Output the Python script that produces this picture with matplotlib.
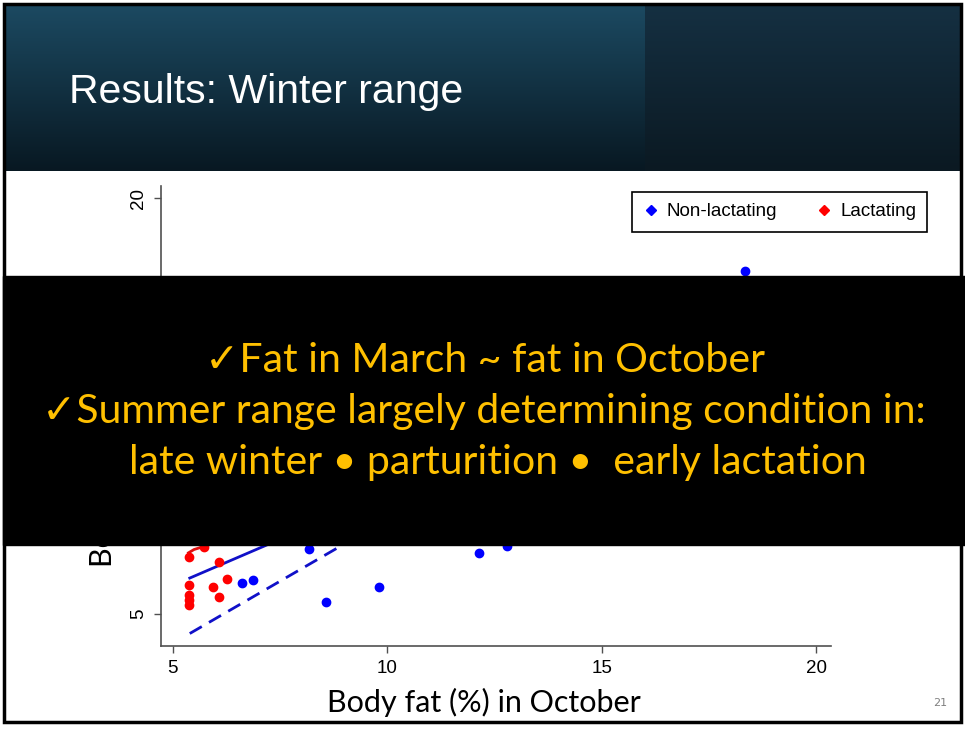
import numpy as np
import matplotlib.pyplot as plt
from matplotlib.lines import Line2D
from matplotlib.patches import Rectangle

# body fat (%): October (x) vs March (y)
nonlact_oct = [6.61, 6.87, 8.17, 8.57, 9.80, 12.13, 12.80, 18.33]
nonlact_mar = [6.14, 6.24, 7.35, 5.43, 5.97, 7.21, 7.45, 17.38]
lact_oct = [5.38, 5.73, 6.08, 5.38, 5.38, 5.38, 5.38, 5.94, 6.08, 6.26]
lact_mar = [7.07, 7.41, 6.87, 6.05, 5.69, 5.51, 5.32, 5.99, 5.62, 6.26]

# fitted lines (only the ends below the overlay are visible)
fit_solid_x = [5.40, 18.33]
fit_solid_y = [6.30, 14.90]
fit_dash_x = [5.40, 18.33]
fit_dash_y = [4.30, 15.90]
lact_fit_x = [5.37, 5.50, 5.71, 6.30]
lact_fit_y = [7.21, 7.33, 7.43, 8.20]

x_ticks = [5, 10, 15, 20]
y_ticks = [5, 10, 15, 20]

box_lines = ["\u2713Fat in March ~ fat in October",
             "\u2713Summer range largely determining condition in:",
             "late winter \u2022 parturition \u2022  early lactation"]

W, H = 965, 729
fig = plt.figure(figsize=(W / 100, H / 100), dpi=100)
fig.patch.set_facecolor("white")

# ---- scatter chart
ax = fig.add_axes([161 / W, (H - 646) / H, 670 / W, 460 / H])
ax.plot(fit_dash_x, fit_dash_y, color="#1010c8", lw=2, dashes=(5, 3))
ax.plot(fit_solid_x, fit_solid_y, color="#1010c8", lw=2)
ax.plot(lact_fit_x, lact_fit_y, color="#e01010", lw=2)
ax.scatter(nonlact_oct, nonlact_mar, s=36, color="#0000ff", zorder=3)
ax.scatter(lact_oct, lact_mar, s=36, color="#ff0000", zorder=3)

ax.set_xlim(4.73, 20.34)
ax.set_ylim(3.85, 20.44)
ax.set_xticks(x_ticks)
ax.set_yticks(y_ticks)
for s in ["top", "right"]:
    ax.spines[s].set_visible(False)
for s in ["left", "bottom"]:
    ax.spines[s].set_color("#505050")
    ax.spines[s].set_linewidth(1.2)
ax.tick_params(length=5, width=1, color="#505050", labelsize=13.5,
               labelfontfamily="Liberation Sans")
ax.tick_params(axis="x", pad=5)
ax.tick_params(axis="y", pad=5, labelrotation=90)
for lab in ax.get_yticklabels():
    lab.set_va("center")

ax.set_xlabel("Body fat (%) in October", fontsize=22, family=["Lato", "DejaVu Sans"])
ax.xaxis.set_label_coords((483.5 - 161) / 670, -(702 - 646) / 460)
ax.xaxis.label.set_va("center")
ax.set_ylabel("Body fat (%) in March", fontsize=22, family=["Lato", "DejaVu Sans"])
ax.yaxis.set_label_coords(-(161 - 102) / 670, (646 - 567) / 460)
ax.yaxis.label.set_rotation_mode("anchor")
ax.yaxis.label.set_ha("left")
ax.yaxis.label.set_va("center")

handles = [Line2D([], [], ls="", marker="D", ms=5, color="#0000ff"),
           Line2D([], [], ls="", marker="D", ms=5, color="#ff0000")]
leg = ax.legend(handles, ["Non-lactating", "Lactating"], ncol=2,
                loc="upper left", bbox_to_anchor=((632 - 161) / 670, (646 - 192) / 460),
                prop={"family": ["Liberation Sans", "DejaVu Sans"], "size": 13.5},
                fancybox=False, edgecolor="black", framealpha=1,
                handlelength=0.8, handletextpad=0.45, columnspacing=2.1,
                borderpad=0.6, borderaxespad=0)
leg.get_frame().set_linewidth(1.2)

# ---- slide decorations on top
top = fig.add_axes([0, 0, 1, 1], zorder=5)
top.set_xlim(0, W)
top.set_ylim(H, 0)
top.axis("off")
top.patch.set_visible(False)

g = np.linspace(0, 1, 200)[:, None]
left_c = np.array([0x1c, 0x4a, 0x62]) / 255 * (1 - g) + np.array([0x08, 0x18, 0x22]) / 255 * g
right_c = np.array([0x15, 0x30, 0x42]) / 255 * (1 - g) + np.array([0x0b, 0x19, 0x22]) / 255 * g
top.imshow(left_c[:, None, :].repeat(2, axis=1), extent=(4, 645, 171, 4), aspect="auto")
top.imshow(right_c[:, None, :].repeat(2, axis=1), extent=(645, 961, 171, 4), aspect="auto")
top.set_xlim(0, W)
top.set_ylim(H, 0)
top.text(69, 103, "Results: Winter range", color="white", fontsize=29.5,
         family=["Liberation Sans", "DejaVu Sans"], va="baseline")

top.add_patch(Rectangle((3, 276), W - 3, 269, color="black"))
for txt, cx, by in zip(box_lines, [485, 484, 497.5], [372, 423, 474]):
    top.text(cx, by, txt, color="#ffc000", fontsize=29.5, ha="center", va="baseline",
             family=["Lato", "DejaVu Sans"])

top.text(940, 703, "21", color="#808080", fontsize=8, ha="center", va="center")
top.add_patch(Rectangle((4, 4), 957, 718, fill=False, edgecolor="black", lw=2.5))

fig.savefig("out.png", dpi=100)
